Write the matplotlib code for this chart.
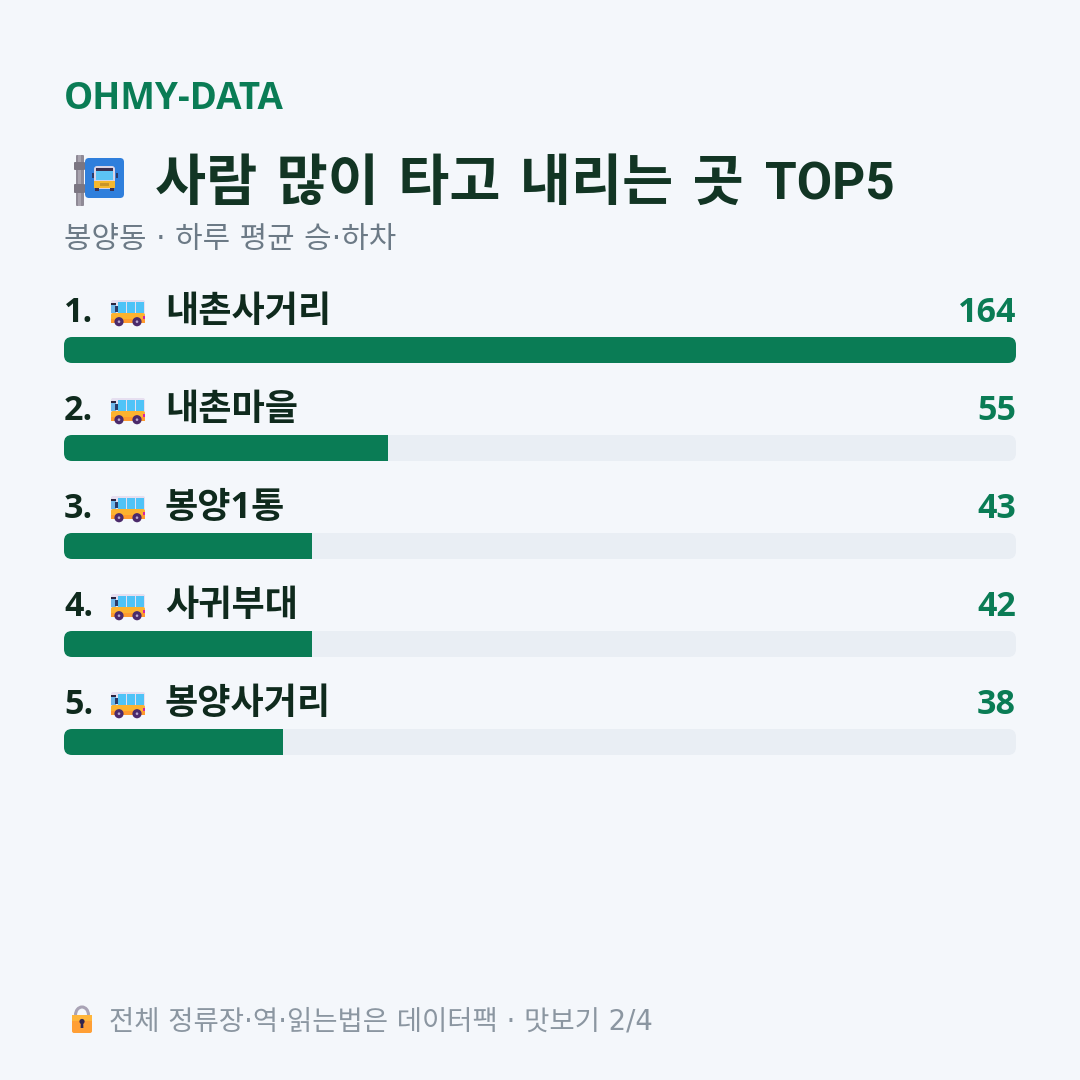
import matplotlib
matplotlib.use('Agg')
import matplotlib.pyplot as plt
from matplotlib.patches import FancyBboxPatch, Rectangle, Circle, Arc, Polygon

# latin from Open Sans, hangul falls through to Noto
plt.rcParams['font.family'] = ['Open Sans', 'Noto Sans CJK KR', 'DejaVu Sans']
# DejaVu first where only the wider word spaces are wanted from it
WIDE_SPACE = ['DejaVu Sans', 'Noto Sans CJK KR']

BG = '#f4f7fb'
GREEN = '#0a7c55'
DARK = '#123524'
ROW_DARK = '#0f2a1d'
GREY = '#6c7a86'
TRACK = '#e9eef4'

stops = ['내촌사거리', '내촌마을', '봉양1통', '사귀부대', '봉양사거리']
riders = [164, 55, 43, 42, 38]

title = '사람 많이 타고 내리는 곳'
title_tail = 'TOP5'
subtitle = '봉양동 · 하루 평균 승·하차'
footer = '전체 정류장·역·읽는법은 데이터팩 · 맛보기 2/4'

# everything below is laid out in pixels, y going down
fig = plt.figure(figsize=(10.8, 10.8), dpi=100, facecolor=BG)
ax = fig.add_axes([0, 0, 1, 1])
ax.set_xlim(0, 1080)
ax.set_ylim(1080, 0)
ax.axis('off')


def rbox(x, y, w, h, r, color, z=2, **kw):
    p = FancyBboxPatch((x + r, y + r), w - 2 * r, h - 2 * r,
                       boxstyle='round,pad=%f,rounding_size=%f' % (r, r),
                       fc=color, ec='none', zorder=z, **kw)
    ax.add_patch(p)
    return p


def small_bus(x, y):
    # side view bus, 34 px wide
    rbox(x, y, 34, 16, 2, '#e6dff0', 3)
    rbox(x, y + 13, 34, 10, 2, '#fdb32f', 4)
    ax.add_patch(Rectangle((x, y + 19), 34, 3.5, fc='#ff9a2e', ec='none', zorder=4))
    for wx in (x + 6.5, x + 15.5, x + 24.5):
        ax.add_patch(Rectangle((wx, y + 2), 8, 11, fc='#4fc3f7', ec='none', zorder=5))
    ax.add_patch(Rectangle((x, y + 2.5), 5, 2, fc='#2b2440', ec='none', zorder=5))
    ax.add_patch(Rectangle((x, y + 4.5), 5, 8.5, fc='#6fb7ea', ec='none', zorder=5))
    ax.add_patch(Rectangle((x + 4, y + 6), 2.5, 6, fc='#2b3a67', ec='none', zorder=6))
    ax.add_patch(Rectangle((x + 32, y + 16), 2, 3, fc='#d6249f', ec='none', zorder=6))
    for cx in (x + 8, x + 26):
        ax.add_patch(Circle((cx, y + 21.7), 4.6, fc='#4b2a6b', ec='none', zorder=7))
        ax.add_patch(Circle((cx, y + 21.7), 1.3, fc='#b9a8cf', ec='none', zorder=8))


def stop_sign():
    rbox(76, 155, 8, 51, 1, '#8f8a96', 3)
    ax.add_patch(Rectangle((78, 155), 3, 51, fc='#a8a3ae', ec='none', zorder=3))
    rbox(74, 162, 11, 8, 1, '#7b7682', 3)
    rbox(74, 184, 11, 9, 1, '#7b7682', 3)
    rbox(85, 158, 39, 40, 4, '#2f7fdc', 4)
    rbox(94, 166, 21, 23, 3, '#d9d4e6', 5)
    ax.add_patch(Rectangle((96, 168), 17, 3, fc='#3a2f4f', ec='none', zorder=6))
    ax.add_patch(Rectangle((96, 171), 17, 9, fc='#5cc4f5', ec='none', zorder=6))
    ax.add_patch(Rectangle((94, 181), 21, 7, fc='#f5b82e', ec='none', zorder=6))
    ax.add_patch(Rectangle((100, 183), 9, 3, fc='#c9952a', ec='none', zorder=7))
    ax.add_patch(Rectangle((91.5, 173), 2, 5, fc='#2b3a67', ec='none', zorder=6))
    ax.add_patch(Rectangle((115.5, 173), 2, 5, fc='#2b3a67', ec='none', zorder=6))
    ax.add_patch(Rectangle((95, 188), 4, 3, fc='#3a2f4f', ec='none', zorder=6))
    ax.add_patch(Rectangle((110, 188), 4, 3, fc='#3a2f4f', ec='none', zorder=6))


def lock():
    ax.add_patch(Arc((82, 1015), 13, 16, theta1=180, theta2=360, ec='#a9a3b5', lw=2.2, zorder=3))
    rbox(72, 1015, 20, 18, 2, '#ff9f35', 4)
    ax.add_patch(Rectangle((72, 1015), 20, 6, fc='#ffb53a', ec='none', zorder=4))
    ax.add_patch(Circle((82, 1021.5), 2.6, fc='#33264f', ec='none', zorder=5))
    ax.add_patch(Polygon([(80.8, 1022), (83.2, 1022), (83.4, 1028), (80.6, 1028)],
                         fc='#33264f', ec='none', zorder=5))


ax.text(64, 109, 'OHMY-DATA', fontsize=26.5, fontweight='bold', color=GREEN, va='baseline', ha='left')
stop_sign()
ax.text(155, 200, title, fontsize=40, fontweight='bold', color=DARK, va='baseline', ha='left', family=WIDE_SPACE)
ax.text(765, 199, title_tail, fontsize=37, fontweight='bold', color=DARK, va='baseline', ha='left', family='Roboto')
ax.text(64, 248, subtitle, fontsize=21.5, color=GREY, va='baseline', ha='left', family=WIDE_SPACE)

BAR_LEFT, BAR_W, BAR_H = 64, 952, 26
top = max(riders)
for i, (name, val) in enumerate(zip(stops, riders)):
    row = 98 * i
    ax.text(64, 322 + row, '%d.' % (i + 1), fontsize=24.5, fontweight='bold', color=ROW_DARK, va='baseline', ha='left')
    small_bus(111, 300 + row)
    ax.text(165, 322 + row, name, fontsize=26, fontweight='bold', color=ROW_DARK, va='baseline', ha='left')
    ax.text(1016, 322 + row, str(val), fontsize=24.5, fontweight='bold', color=GREEN, va='baseline', ha='right')

    track = rbox(BAR_LEFT, 337 + row, BAR_W, BAR_H, 8, TRACK, 2)
    # fill width is the share of the largest stop, whole percent
    pct = round(100 * val / top)
    fill = ax.barh(337 + row + BAR_H / 2, BAR_W * pct / 100, height=BAR_H, left=BAR_LEFT,
                   color=GREEN, zorder=3)[0]
    fill.set_clip_path(track)

lock()
ax.text(109, 1029, footer, fontsize=19.8, color='#8b96a1', va='baseline', ha='left', family=WIDE_SPACE)

fig.savefig('out.png', dpi=100, facecolor=BG)
